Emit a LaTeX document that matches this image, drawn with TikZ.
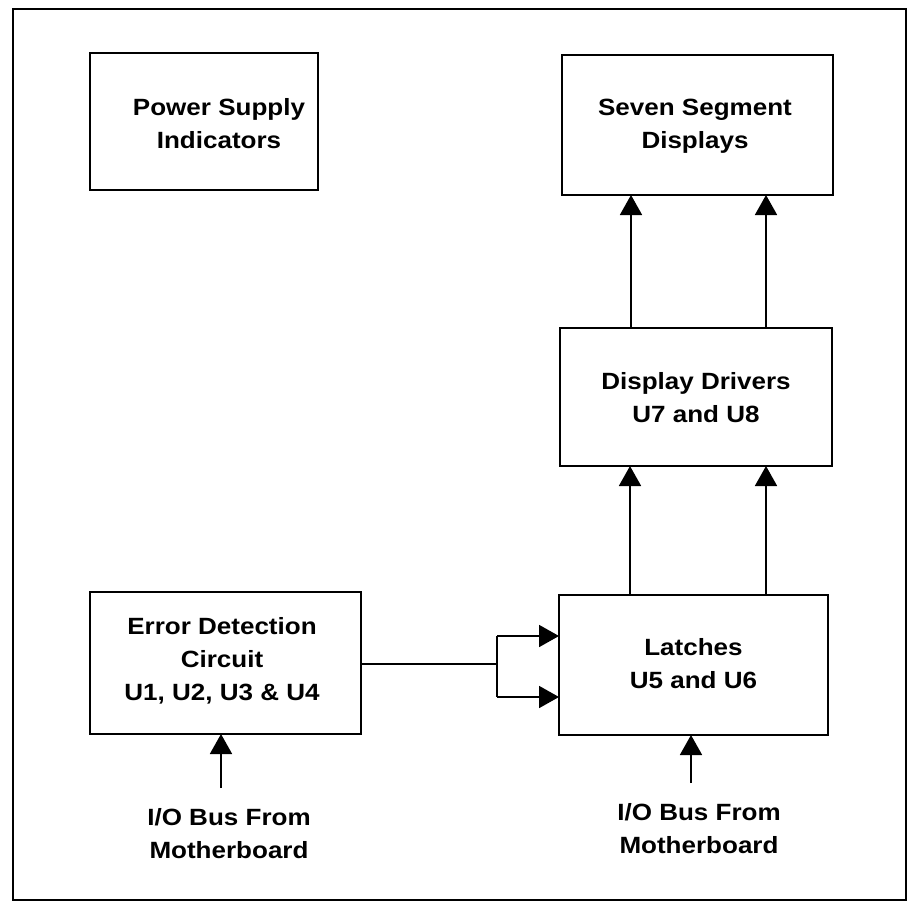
\documentclass[tikz,border=0pt]{standalone}
\usepackage{fontspec}
\setmainfont{Liberation Sans Bold}[FakeStretch=1.107]
\usetikzlibrary{arrows.meta,calc}
\begin{document}
\begin{tikzpicture}[x=1pt,y=-1pt,
  blk/.style={draw=black,line width=2.6pt,fill=white,inner sep=0pt},
  txt/.style={font=\fontsize{23.5}{33}\selectfont,align=center,inner sep=0pt},
  arr/.style={line width=1.8pt,-{Triangle[length=20pt,width=22pt]}},
  wire/.style={line width=1.8pt}]
\useasboundingbox (0,0) rectangle (913,903);
\draw[line width=1.8pt] (13,9) rectangle (906,900);
% blocks
\draw[blk] (90,53) rectangle (318,190);
\node[txt] (psu) at (219,124) {Power Supply\\Indicators};
\draw[blk] (562,55) rectangle (833,195);
\node[txt] (ssd) at (695,126) {Seven Segment\\Displays};
\draw[blk] (560,328) rectangle (832,466);
\node[txt] (drv) at (696,398) {Display Drivers\\U7 and U8};
\draw[blk] (90,592) rectangle (361,734);
\node[txt] (err) at (222,661) {Error Detection\\Circuit\\U1, U2, U3 \& U4};
\draw[blk] (559,595) rectangle (828,735);
\node[txt] (lat) at (693.5,664) {Latches\\U5 and U6};
% connector coordinates
\coordinate (ssdS1) at (631,195); \coordinate (ssdS2) at (766,195);
\coordinate (drvN1) at (631,328); \coordinate (drvN2) at (766,328);
\coordinate (drvS1) at (630,466); \coordinate (drvS2) at (766,466);
\coordinate (latN1) at (630,595); \coordinate (latN2) at (766,595);
\coordinate (errE) at (361,664);
\coordinate (br) at (497,664);
\coordinate (brT) at (497,636); \coordinate (brB) at (497,697);
\coordinate (latW1) at (559,636); \coordinate (latW2) at (559,697);
\coordinate (errS) at (221,734); \coordinate (latS) at (691,735);
\coordinate (in1) at (221,788); \coordinate (in2) at (691,783);
% connectors
\draw[arr] (drvN1) -- (ssdS1);
\draw[arr] (drvN2) -- (ssdS2);
\draw[arr] (latN1) -- (drvS1);
\draw[arr] (latN2) -- (drvS2);
\draw[wire] (errE) -- (br);
\draw[wire] (brT) -- (brB);
\draw[arr] (brT) -- (latW1);
\draw[arr] (brB) -- (latW2);
\draw[arr] (in1) -- (errS);
\draw[arr] (in2) -- (latS);
% labels
\node[txt] (io1) at (229,834) {I/O Bus From\\Motherboard};
\node[txt] (io2) at (699,829) {I/O Bus From\\Motherboard};
\end{tikzpicture}
\end{document}
